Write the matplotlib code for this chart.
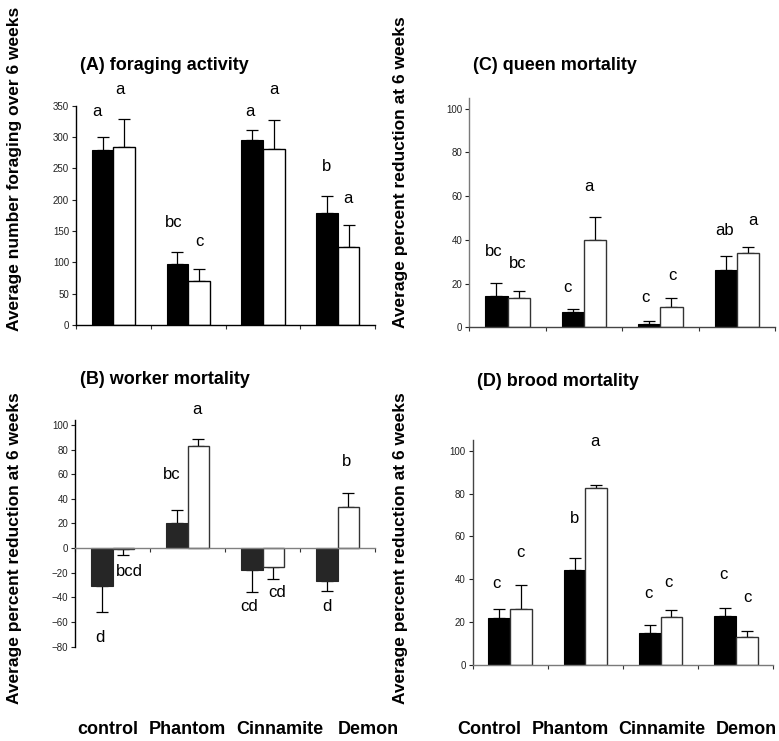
import matplotlib.pyplot as plt
import numpy as np

plt.rcParams['font.family'] = ['Liberation Sans', 'DejaVu Sans']

# categories (lower-case in B, capitalised in D, as in the original)
cats_b = ['control', 'Phantom', 'Cinnamite', 'Demon']
cats_d = ['Control', 'Phantom', 'Cinnamite', 'Demon']

# (A) foraging activity
a_black = [279, 98, 295, 179]
a_black_err = [21, 18, 16, 27]
a_white = [284, 71, 281, 125]
a_white_err = [45, 18, 46, 35]
a_letters = ['a', 'a', 'bc', 'c', 'a', 'a', 'b', 'a']
a_lx = [-0.22, 0.09, 0.80, 1.15, 1.82, 2.14, 2.85, 3.14]
a_ly = [340, 375, 163, 133, 340, 375, 253, 202]

# (B) worker mortality
b_black = [-30.5, 20, -18, -26.5]
b_black_err = [21.5, 11, 17.7, 8.5]
b_white = [-1, 83, -15.4, 33.3]
b_white_err = [4.7, 5.8, 10, 11.1]
b_letters = ['d', 'bcd', 'bc', 'a', 'cd', 'cd', 'd', 'b']
b_lx = [-0.17, 0.22, 0.79, 1.12, 1.82, 2.19, 2.86, 3.12]
b_ly = [-72.8, -18.7, 59.8, 112.6, -47, -36, -47, 70.6]

# (C) queen mortality
c_black = [14.5, 7, 1.5, 26]
c_black_err = [5.9, 1.5, 1.4, 6.6]
c_white = [13.5, 40, 9.5, 34]
c_white_err = [3.1, 10.6, 3.8, 2.7]
c_letters = ['bc', 'bc', 'c', 'a', 'c', 'c', 'ab', 'a']
c_lx = [-0.18, 0.13, 0.79, 1.07, 1.80, 2.16, 2.84, 3.21]
c_ly = [34.6, 29.3, 18.1, 64.3, 13.6, 23.9, 44.2, 49]

# (D) brood mortality
d_black = [22, 44.3, 15, 23]
d_black_err = [4.2, 5.8, 3.7, 3.4]
d_white = [26, 82.6, 22.2, 13]
d_white_err = [11.2, 1.5, 3.3, 2.8]
d_letters = ['c', 'c', 'b', 'a', 'c', 'c', 'c', 'c']
d_lx = [-0.19, 0.14, 0.86, 1.13, 1.84, 2.10, 2.84, 3.16]
d_ly = [38.1, 52.4, 68.4, 104.2, 33.4, 38.4, 42, 31.6]

W = 0.29
FW, FH = 779, 741


def one_sided(vals, errs):
    lo = [e if v < 0 else 0 for v, e in zip(vals, errs)]
    hi = [0 if v < 0 else e for v, e in zip(vals, errs)]
    return [lo, hi]


def panel(ax, black, berr, white, werr, letters, lx, ly, ylim, yticks,
          dark='black', edge='black', lcol='black', bcol='black'):
    x = np.arange(len(black))
    ax.bar(x - W / 2, black, W, color=dark, edgecolor=dark, linewidth=0.8, zorder=2)
    ax.bar(x + W / 2, white, W, color='white', edgecolor=edge, linewidth=1.0, zorder=2)
    ax.errorbar(x - W / 2, black, yerr=one_sided(black, berr), fmt='none',
                ecolor='black', elinewidth=0.9, capsize=4, capthick=0.9, zorder=1)
    ax.errorbar(x + W / 2, white, yerr=one_sided(white, werr), fmt='none',
                ecolor='black', elinewidth=0.9, capsize=4, capthick=0.9, zorder=1)
    for t, xx, yy in zip(letters, lx, ly):
        ax.text(xx, yy, t, ha='center', va='center', fontsize=12, clip_on=False)
    ax.set_xlim(-0.5, len(black) - 0.5)
    ax.set_ylim(*ylim)
    ax.set_yticks(yticks)
    ax.set_xticks(np.arange(-0.5, len(black)))
    ax.set_xticklabels([])
    for s in ['top', 'right']:
        ax.spines[s].set_visible(False)
    ax.spines['left'].set_color(lcol)
    ax.spines['bottom'].set_color(bcol)
    ax.spines['bottom'].set_position(('data', 0))
    ax.spines['left'].set_linewidth(1.0)
    ax.spines['bottom'].set_linewidth(1.0)
    ax.tick_params(axis='y', length=3, width=0.8, pad=2, labelsize=7, colors='#222222')
    ax.tick_params(axis='x', length=3, width=0.8, colors='#333333')
    ax.patch.set_visible(False)


fig = plt.figure(figsize=(7.79, 7.41), dpi=100)

axA = fig.add_axes([0.0976, 0.5614, 0.384, 0.296])
panel(axA, a_black, a_black_err, a_white, a_white_err, a_letters, a_lx, a_ly,
      (0, 350), np.arange(0, 351, 50))

axB = fig.add_axes([0.0963, 0.1273, 0.3851, 0.3059])
panel(axB, b_black, b_black_err, b_white, b_white_err, b_letters, b_lx, b_ly,
      (-80, 104), np.arange(-80, 101, 20), dark='#262626', edge='#333333',
      bcol='#808080')

axC = fig.add_axes([0.6025, 0.5583, 0.3924, 0.3099])
panel(axC, c_black, c_black_err, c_white, c_white_err, c_letters, c_lx, c_ly,
      (0, 105), np.arange(0, 101, 20), edge='#333333', lcol='#7a7a7a',
      bcol='#444444')

axD = fig.add_axes([0.6068, 0.1026, 0.3859, 0.3036])
panel(axD, d_black, d_black_err, d_white, d_white_err, d_letters, d_lx, d_ly,
      (0, 105), np.arange(0, 101, 20), edge='#333333', lcol='#444444',
      bcol='#7a7a7a')

b_name_x = [108, 187, 280, 368]
d_name_x = [489, 570, 662, 746]
for names, xs in [(cats_b, b_name_x), (cats_d, d_name_x)]:
    for c, px in zip(names, xs):
        fig.text(px / FW, 1 - 729 / FH, c, ha='center', va='center',
                 fontsize=13, fontweight='bold')

# panel titles
fig.text(80 / FW, 1 - 65 / FH, '(A) foraging activity', fontsize=13,
         fontweight='bold', va='center')
fig.text(80 / FW, 1 - 380 / FH, '(B) worker mortality', fontsize=13,
         fontweight='bold', va='center')
fig.text(473 / FW, 1 - 65 / FH, '(C) queen mortality', fontsize=13,
         fontweight='bold', va='center')
fig.text(477 / FW, 1 - 382 / FH, '(D) brood mortality', fontsize=13,
         fontweight='bold', va='center')

# y-axis labels
fig.text(15 / FW, 1 - 169 / FH, 'Average number foraging over 6 weeks',
         rotation=90, fontsize=12.5, fontweight='bold', ha='center', va='center')
fig.text(15 / FW, 1 - 548 / FH, 'Average percent reduction at 6 weeks',
         rotation=90, fontsize=12.5, fontweight='bold', ha='center', va='center')
fig.text(400 / FW, 1 - 172 / FH, 'Average percent reduction at 6 weeks',
         rotation=90, fontsize=12.5, fontweight='bold', ha='center', va='center')
fig.text(400 / FW, 1 - 548 / FH, 'Average percent reduction at 6 weeks',
         rotation=90, fontsize=12.5, fontweight='bold', ha='center', va='center')

fig.savefig('out.png', dpi=100)
